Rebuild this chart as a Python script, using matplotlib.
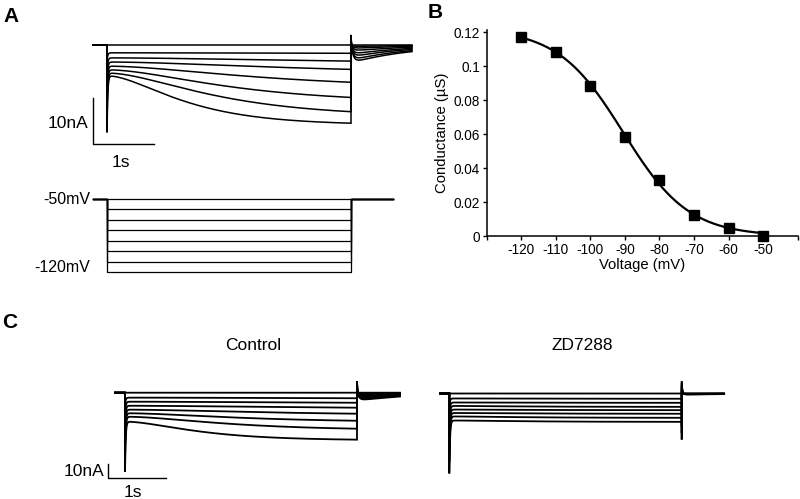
import matplotlib.pyplot as plt
import numpy as np

plt.rcParams["font.family"] = ["Liberation Sans", "DejaVu Sans"]

W, H = 800, 499

# voltage protocol (mV)
HOLD = -50
STEPS = [-50, -60, -70, -80, -90, -100, -110, -120]
STEP_DUR = 4.0  # s

# panel A currents (nA), one value per step
A_I_START = [0, -1.7, -2.8, -3.7, -4.6, -5.4, -6.1, -6.7]
A_I_END = [0, -1.8, -3.5, -5.3, -8.1, -11.4, -14.5, -17.0]
A_TAU = [1.0, 4.0, 3.0, 2.5, 2.0, 1.6, 1.4, 1.0]
A_TAIL = [0, -0.33, -0.76, -1.3, -2.0, -2.6, -3.3, -3.9]

# panel C control currents (nA)
C_I_START = [0, -3.3, -6.0, -8.7, -11.3, -13.7, -16.0, -19.3]
C_I_END = [0, -3.7, -6.7, -10.0, -14.0, -18.7, -24.0, -31.3]
C_TAU = [1.0, 4.0, 3.0, 2.5, 2.0, 1.6, 1.4, 1.0]
C_TAIL = [0, -0.7, -1.3, -2.0, -3.0, -3.7, -4.7, -5.3]

# panel C ZD7288 currents (nA)
Z_I_START = [0, -3.3, -6.0, -8.3, -10.7, -13.0, -15.3, -18.0]
Z_I_END = [0, -3.5, -6.2, -8.9, -11.1, -13.5, -16.2, -18.9]
Z_TAU = [1.0] * 8
Z_TAIL = [0, -0.1, -0.2, -0.3, -0.4, -0.5, -0.6, -0.8]

# panel B conductance
VOLT = [-120, -110, -100, -90, -80, -70, -60, -50]
COND = [0.117, 0.108, 0.088, 0.058, 0.033, 0.0124, 0.0045, 0.0]
GMAX, V_HALF, SLOPE = 0.122, -90.5, 9.5


def px_axes(fig, box, origin, scale):
    # box in pixels (left, top, right, bottom), origin = pixel of data (0, 0)
    l, t, r, b = box
    ax = fig.add_axes([l / W, 1 - b / H, (r - l) / W, (b - t) / H])
    ax.set_xlim((l - origin[0]) / scale[0], (r - origin[0]) / scale[0])
    ax.set_ylim((origin[1] - b) / scale[1], (origin[1] - t) / scale[1])
    ax.axis("off")
    return ax


def sweep(k, i0, i1, tau, tail, pre, post, on_spike, off_up, off_down=0.0):
    frac = (STEPS[k] - HOLD) / (STEPS[-1] - HOLD)
    tb = np.linspace(0, STEP_DUR, 800)
    act = (1 - np.exp(-tb / tau)) ** 2 / (1 - np.exp(-STEP_DUR / tau)) ** 2
    ib = i0 + (i1 - i0) * act + on_spike * frac * np.exp(-tb / 0.012)
    tc = np.linspace(0, post, 300)
    ic = off_up * frac * np.exp(-tc / 0.01) + tail * (1 - np.exp(-tc / 0.04)) * np.exp(-tc / 1.0)
    t = np.concatenate([[-pre, 0], tb, [STEP_DUR], STEP_DUR + tc])
    i = np.concatenate([[0, 0], ib, [min(i1, -off_down * frac)], ic])
    return t, i


def draw_currents(ax, starts, ends, taus, tails, pre, post, on_spike, off_up, off_down=0.0, lw=1.0):
    for k in range(len(STEPS)):
        t, i = sweep(k, starts[k], ends[k], taus[k], tails[k], pre, post, on_spike, off_up, off_down)
        ax.plot(t, i, color="black", lw=lw, solid_joinstyle="miter")


fig = plt.figure(figsize=(W / 100, H / 100), dpi=100)

# ---- A: currents
ax_a = px_axes(fig, (50, 25, 425, 175), (107, 45), (61, 4.6))
draw_currents(ax_a, A_I_START, A_I_END, A_TAU, A_TAIL, 0.23, 1.0, -12.3, 2.2, lw=1.1)
x0, y0 = -0.23, -11.5
ax_a.plot([x0, x0, x0 + 1], [y0, y0 - 10, y0 - 10], color="black", lw=1.0)
ax_a.text(x0 - 0.08, y0 - 5.5, "10nA", ha="right", va="center", fontsize=12.5)
ax_a.text(x0 + 0.46, y0 - 14.0, "1s", ha="center", va="center", fontsize=12.5)

# ---- A: voltage protocol
ax_v = px_axes(fig, (50, 185, 425, 285), (107, 199), (61, 1.043))
for v in STEPS:
    dv = v - HOLD
    ax_v.plot([-0.23, 0, 0, STEP_DUR, STEP_DUR, 4.69], [0, 0, dv, dv, 0, 0],
              color="black", lw=0.9)
ax_v.text(-0.28, 0, "-50mV", ha="right", va="center", fontsize=11.5)
ax_v.text(-0.28, -66, "-120mV", ha="right", va="center", fontsize=11.5)

# ---- B: conductance
ax_b = fig.add_axes([486.7 / W, 1 - 236 / H, 311 / W, 206 / H])
vfit = np.linspace(-120, -50, 200)
ax_b.plot(vfit, GMAX / (1 + np.exp((vfit - V_HALF) / SLOPE)), color="black", lw=1.6)
ax_b.plot(VOLT, COND, "s", color="black", markersize=6.5, clip_on=False)
ax_b.set_xlim(-130, -40)
ax_b.set_ylim(0, 0.1212)
ax_b.set_xticks(np.arange(-130, -39, 10))
ax_b.set_xticklabels([""] + [str(v) for v in range(-120, -49, 10)] + [""])
ax_b.set_yticks([0, 0.02, 0.04, 0.06, 0.08, 0.1, 0.12])
ax_b.set_yticklabels(["0", "0.02", "0.04", "0.06", "0.08", "0.1", "0.12"])
ax_b.tick_params(direction="out", length=3, width=1.0, labelsize=9.8, pad=2)
for s in ("top", "right"):
    ax_b.spines[s].set_visible(False)
for s in ("left", "bottom"):
    ax_b.spines[s].set_linewidth(1.1)
ax_b.set_xlabel("Voltage (mV)", fontsize=10.7, labelpad=1)
ax_b.set_ylabel("Conductance (\u00b5S)", fontsize=10.7, labelpad=3)

# ---- C: control and ZD7288
ax_c = px_axes(fig, (50, 370, 425, 499), (125, 392.7), (58, 1.5))
draw_currents(ax_c, C_I_START, C_I_END, C_TAU, C_TAIL, 0.17, 0.74, -33.4, 7.8, lw=1.3)
x0, y0 = -0.29, -47.5
ax_c.plot([x0, x0, x0 + 1], [y0, y0 - 9.5, y0 - 9.5], color="black", lw=1.0)
ax_c.text(x0 - 0.06, y0 - 4.7, "10nA", ha="right", va="center", fontsize=12.5)
ax_c.text(x0 + 0.43, y0 - 19, "1s", ha="center", va="center", fontsize=12.5)

ax_z = px_axes(fig, (430, 370, 780, 499), (449.3, 393.5), (58.1, 1.5))
draw_currents(ax_z, Z_I_START, Z_I_END, Z_TAU, Z_TAIL, 0.16, 0.73, -35.3, 8.0, 30.7, lw=1.3)

fig.text(253 / W, 1 - 345 / H, "Control", ha="center", va="center", fontsize=12.5)
fig.text(582 / W, 1 - 345 / H, "ZD7288", ha="center", va="center", fontsize=12.5)

# panel letters
for lab, x, y in (("A", 11, 16), ("B", 435, 13), ("C", 10, 322)):
    fig.text(x / W, 1 - y / H, lab, ha="center", va="center", fontsize=15, fontweight="bold")

fig.savefig("out.png", dpi=100)
